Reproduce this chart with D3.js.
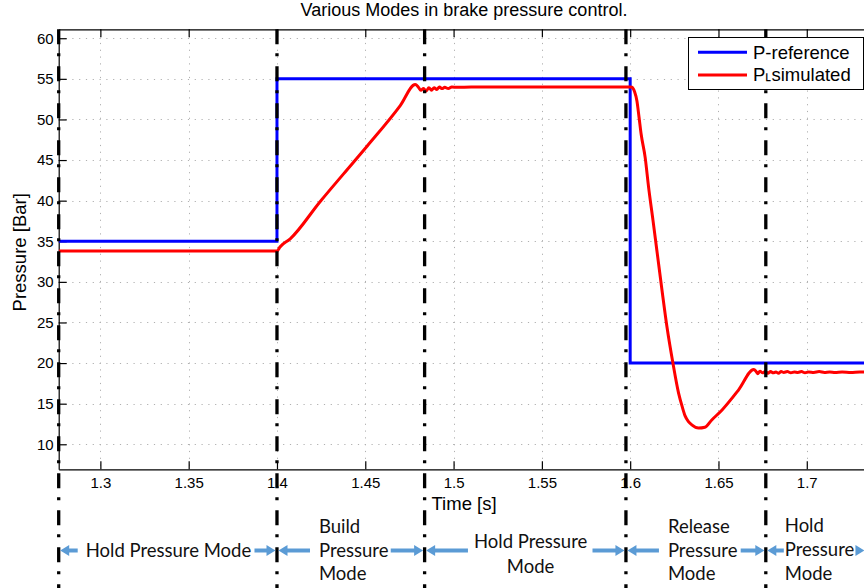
<!DOCTYPE html>
<html><head><meta charset="utf-8">
<script src="https://cdn.jsdelivr.net/npm/d3@7"></script>
<style>html,body{margin:0;padding:0;background:#fff;overflow:hidden}svg{display:block}</style>
</head><body><svg id="c" width="864" height="588"></svg>
<script>
// ---------------- data ----------------
const xTicks = [1.3, 1.35, 1.4, 1.45, 1.5, 1.55, 1.6, 1.65, 1.7];
const xTickLabels = ["1.3", "1.35", "1.4", "1.45", "1.5", "1.55", "1.6", "1.65", "1.7"];
const yTicks = [10, 15, 20, 25, 30, 35, 40, 45, 50, 55, 60];
const yTickLabels = ["10", "15", "20", "25", "30", "35", "40", "45", "50", "55", "60"];

const refTime  = [1.2764, 1.4, 1.4, 1.6, 1.6, 1.76];
const refValue = [35, 35, 55, 55, 20, 20];

const simTime = [1.2764, 1.4, 1.4017, 1.4075, 1.4245, 1.4377, 1.451, 1.4698, 1.4783,
  1.4800, 1.4815, 1.4830, 1.4845, 1.4860, 1.4875, 1.4890, 1.4905, 1.4920, 1.4935, 1.4950,
  1.4970, 1.4990, 1.5020, 1.5100, 1.6000, 1.6010, 1.6025, 1.6038, 1.6050, 1.6062, 1.6085,
  1.6104, 1.6129, 1.6151, 1.6180, 1.6208, 1.6242, 1.6274, 1.6295, 1.6311, 1.6330, 1.6349,
  1.6387, 1.6423, 1.6462, 1.6519, 1.6614, 1.6700, 1.6712, 1.6722, 1.6735, 1.6750, 1.6765,
  1.6780, 1.6795, 1.6810, 1.6825, 1.6840, 1.6855, 1.6870, 1.6890, 1.6910, 1.6930, 1.6950,
  1.6970, 1.6990, 1.7010, 1.7040, 1.7070, 1.7100, 1.7130, 1.7160, 1.7200, 1.7250, 1.7300,
  1.7400, 1.7600];
const simValue = [33.8, 33.8, 34.3, 35.3, 39.9, 43.3, 46.7, 51.7, 54.3,
  54.0, 53.6, 53.8, 53.5, 53.9, 53.6, 53.9, 53.7, 54.0, 53.8, 53.95,
  53.8, 54.0, 53.95, 54.0, 54.0, 53.97, 53.4, 52.3, 50.3, 48.2, 45.3,
  41.7, 37.6, 33.9, 29.0, 24.5, 20.0, 16.3, 14.6, 13.5, 12.8, 12.4,
  12.0, 12.1, 13.0, 14.2, 16.7, 19.2, 19.0, 18.7, 19.0, 18.8, 18.95,
  18.75, 18.95, 18.8, 18.9, 18.75, 18.95, 18.85, 18.95, 18.8, 18.9, 18.85,
  18.95, 18.8, 18.9, 18.85, 18.95, 18.85, 18.9, 18.85, 18.9, 18.85, 18.9,
  18.88, 18.9];

const seriesNames = ["P-reference", "P\u02EAsimulated"];
const seriesColors = ["#0000ff", "#ff0000"];

const modeBounds = [1.2764, 1.4, 1.4836, 1.5976, 1.6768];
const modeEnd = 1.7335;
const modeLabels = [["Hold Pressure Mode"], ["Build", "Pressure", "Mode"], ["Hold Pressure", "Mode"],
                    ["Release", "Pressure", "Mode"], ["Hold", "Pressure", "Mode"]];

// ---------------- layout ----------------
const svg = d3.select("#c");
const L = 58.7, T = 29.3, B = 469.3, R = 905;
const x = d3.scaleLinear().domain([1.2764, 1.2764 + (R - L) / 1766]).range([L, R]);
const y = d3.scaleLinear().domain([6.92, 61.1]).range([B, T]);
const FONT = "'Liberation Sans', Arial, Helvetica, sans-serif";

svg.append("defs").append("clipPath").attr("id", "pc")
  .append("rect").attr("x", L).attr("y", T).attr("width", R - L).attr("height", B - T);

// grid
const grid = svg.append("g").attr("stroke", "#b0b0b0").attr("stroke-width", 1).attr("stroke-dasharray", "1.2,5.6");
grid.selectAll(".gx").data(xTicks).join("line")
  .attr("x1", d => Math.round(x(d)) + 0.5).attr("x2", d => Math.round(x(d)) + 0.5)
  .attr("y1", T).attr("y2", B);
grid.selectAll(".gy").data(yTicks).join("line")
  .attr("y1", d => Math.round(y(d)) + 0.5).attr("y2", d => Math.round(y(d)) + 0.5)
  .attr("x1", L).attr("x2", R);

// axes
const axB = svg.append("g").attr("transform", `translate(0,${B})`)
  .call(d3.axisBottom(x).tickValues(xTicks).tickFormat((d, i) => xTickLabels[i]).tickSize(-8).tickSizeOuter(0).tickPadding(8.5));
const axT = svg.append("g").attr("transform", `translate(0,${T})`)
  .call(d3.axisTop(x).tickValues(xTicks).tickFormat("").tickSize(-8).tickSizeOuter(0));
const axL = svg.append("g").attr("transform", `translate(${L},0)`)
  .call(d3.axisLeft(y).tickValues(yTicks).tickFormat((d, i) => yTickLabels[i]).tickSize(-8).tickSizeOuter(0).tickPadding(5));
[axB, axT, axL].forEach(g => {
  g.selectAll("path,line").attr("stroke", "#000").attr("stroke-width", 1.2);
  g.selectAll("text").attr("font-family", FONT).attr("font-size", "15px").attr("fill", "#000");
});

// series
const plot = svg.append("g").attr("clip-path", "url(#pc)");
const line = d3.line().x(d => x(d[0])).y(d => y(d[1]));
const refData = refTime.map((t, i) => [t, refValue[i]]);
const simData = simTime.map((t, i) => [t, simValue[i]]);
plot.append("path").datum(refData).attr("d", line).attr("fill", "none")
  .attr("stroke", seriesColors[0]).attr("stroke-width", 3);
plot.append("path").datum(simData).attr("d", d3.line().curve(d3.curveMonotoneX).x(d => x(d[0])).y(d => y(d[1])))
  .attr("fill", "none").attr("stroke", seriesColors[1]).attr("stroke-width", 3).attr("stroke-linejoin", "round");

// mode boundary dash-dot lines
svg.append("g").selectAll("line").data(modeBounds).join("line")
  .attr("x1", d => x(d)).attr("x2", d => x(d)).attr("y1", T).attr("y2", 588)
  .attr("stroke", "#000").attr("stroke-width", 3.3).attr("stroke-dasharray", "15,9,3,10");

// title & labels
svg.append("text").attr("x", 464).attr("y", 16).attr("text-anchor", "middle")
  .attr("font-family", FONT).attr("font-size", "18px").text("Various Modes in brake pressure control.");
svg.append("text").attr("transform", "translate(25.7,252.3) rotate(-90)").attr("text-anchor", "middle")
  .attr("font-family", FONT).attr("font-size", "18.5px").text("Pressure [Bar]");
svg.append("text").attr("x", 431.5).attr("y", 510)
  .attr("font-family", FONT).attr("font-size", "18.5px").text("Time [s]");

// legend
const lg = svg.append("g");
lg.append("rect").attr("x", 688.5).attr("y", 37.5).attr("width", 175).attr("height", 52)
  .attr("fill", "#fff").attr("stroke", "#000").attr("stroke-width", 1);
seriesNames.forEach((name, i) => {
  const ly = 52.3 + i * 22.7;
  lg.append("line").attr("x1", 698).attr("x2", 747).attr("y1", ly).attr("y2", ly)
    .attr("stroke", seriesColors[i]).attr("stroke-width", 3);
  lg.append("text").attr("x", 753).attr("y", ly + 6.3)
    .attr("font-family", FONT + ", 'DejaVu Sans'").attr("font-size", "18.5px").text(name);
});

// mode annotations
const ann = svg.append("g");
const AFONT = "Lato, 'Open Sans', sans-serif";
const AFS = 18.5;
const arrowY = 550.5;
const arrowColor = "#5b9bd5";
const textOffset = [27, 42, 106, 42, 19];      // px from left boundary (seg 3 centred)
const baselines = [[556.7], [532.7, 556.7, 580], [548.3, 572.7], [532.7, 556.7, 580], [532, 556, 580]];
const rowIndex = [0, 1, 0, 1, 1];
const gapL = [8, 9, 6, 9, 1], gapR = [3, 2, 5, 3, 1.5];
function arrow(tail, tip) {
  const dir = tip > tail ? 1 : -1;
  const hl = 9, hh = 5.5;
  ann.append("line").attr("x1", tail).attr("x2", tip - dir * hl + dir * 1).attr("y1", arrowY).attr("y2", arrowY)
    .attr("stroke", arrowColor).attr("stroke-width", 4);
  ann.append("path").attr("d", `M${tip},${arrowY}L${tip - dir * hl},${arrowY - hh}L${tip - dir * hl},${arrowY + hh}Z`)
    .attr("fill", arrowColor);
}
modeLabels.forEach((lines, i) => {
  const xl = x(modeBounds[i]);
  const xr = x(i < modeBounds.length - 1 ? modeBounds[i + 1] : modeEnd);
  const centred = i === 2;
  let rowBox = null;
  lines.forEach((s, j) => {
    const t = ann.append("text").attr("x", xl + textOffset[i]).attr("y", baselines[i][j])
      .attr("text-anchor", centred ? "middle" : "start")
      .attr("font-family", AFONT).attr("font-size", AFS + "px").attr("fill", "#111").text(s);
    if (j === rowIndex[i]) rowBox = t.node().getBBox();
  });
  arrow(rowBox.x - gapL[i], xl + 1.5);
  arrow(rowBox.x + rowBox.width + gapR[i], xr - 1.5);
});
</script>
</body></html>
